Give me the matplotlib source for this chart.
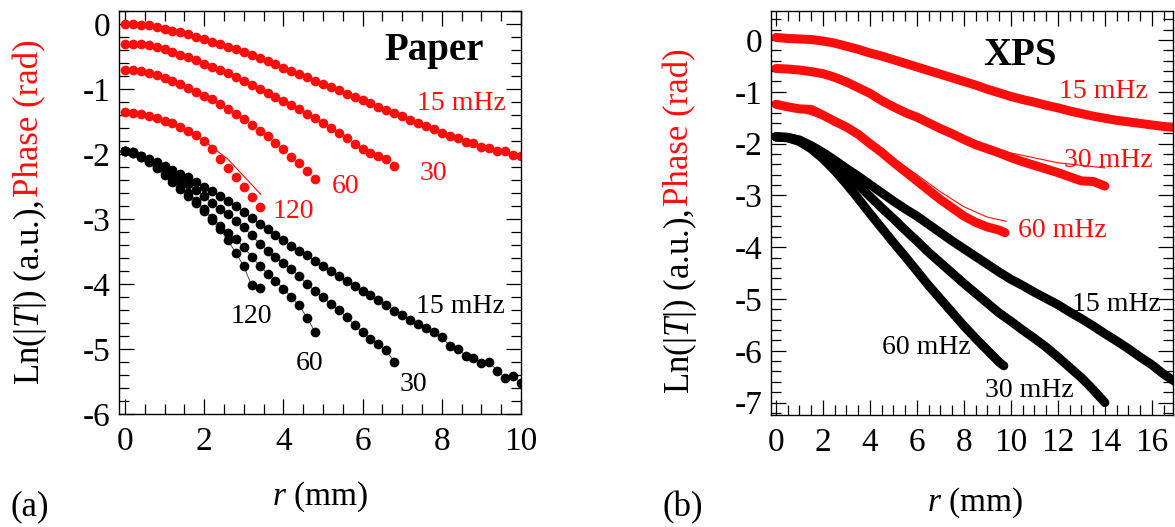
import matplotlib
matplotlib.use("Agg")
import matplotlib.pyplot as plt
from matplotlib.ticker import MultipleLocator

plt.rcParams.update({
    "font.family": "Liberation Serif",
    "mathtext.fontset": "custom",
    "mathtext.rm": "Liberation Serif",
    "mathtext.it": "Liberation Serif:italic",
    "axes.unicode_minus": False,
})

RED = "#ff0d0d"

# ---------------- panel (a): Paper, r grid in mm ----------------
r_a = [0.0, 0.2, 0.4, 0.6, 0.8, 1.0, 1.2, 1.4, 1.6, 1.8, 2.0, 2.2, 2.4, 2.6, 2.8,
       3.0, 3.2, 3.4, 3.6, 3.8, 4.0, 4.2, 4.4, 4.6, 4.8, 5.0, 5.2, 5.4, 5.6, 5.8,
       6.0, 6.2, 6.4, 6.6, 6.8, 7.0, 7.2, 7.4, 7.6, 7.8, 8.0, 8.2, 8.4, 8.6, 8.8,
       9.0, 9.2, 9.4, 9.6, 9.8, 10.0]

paper_phase_15 = [0.00, 0.00, -0.01, -0.02, -0.04, -0.07, -0.10, -0.13, -0.16, -0.20,
                  -0.23, -0.27, -0.31, -0.35, -0.39, -0.43, -0.48, -0.52, -0.57, -0.62,
                  -0.67, -0.72, -0.77, -0.82, -0.87, -0.92, -0.97, -1.02, -1.07, -1.12,
                  -1.17, -1.22, -1.27, -1.32, -1.37, -1.42, -1.47, -1.52, -1.57, -1.62,
                  -1.67, -1.72, -1.76, -1.82, -1.83, -1.89, -1.90, -1.96, -1.95, -2.01,
                  -2.03]
paper_phase_30 = [-0.30, -0.30, -0.31, -0.33, -0.36, -0.39, -0.43, -0.47, -0.51, -0.56,
                  -0.61, -0.66, -0.71, -0.76, -0.82, -0.88, -0.94, -1.00, -1.06, -1.12,
                  -1.18, -1.24, -1.31, -1.38, -1.45, -1.53, -1.60, -1.68, -1.76, -1.84,
                  -1.92, -1.98, -2.03, -2.08, -2.19]
paper_phase_60 = [-0.70, -0.70, -0.72, -0.75, -0.79, -0.83, -0.88, -0.93, -0.98, -1.04,
                  -1.10, -1.16, -1.23, -1.30, -1.38, -1.46, -1.55, -1.64, -1.73, -1.83,
                  -1.93, -2.04, -2.14, -2.26, -2.38]
paper_phase_120 = [-1.36, -1.37, -1.39, -1.42, -1.45, -1.49, -1.53, -1.58, -1.64, -1.71,
                   -1.80, -1.92, -2.07, -2.22, -2.36, -2.50, -2.66, -2.82]
fit_r_120 = [0.0, 1.0, 2.0, 2.6, 3.43]
fit_phase_120 = [-1.36, -1.49, -1.80, -2.08, -2.62]

paper_amp_15 = [-1.96, -1.97, -2.03, -2.08, -2.13, -2.18, -2.24, -2.30, -2.36, -2.43,
                -2.50, -2.57, -2.64, -2.72, -2.80, -2.89, -2.99, -3.08, -3.16, -3.24,
                -3.32, -3.41, -3.49, -3.56, -3.64, -3.72, -3.80, -3.87, -3.95, -4.03,
                -4.11, -4.17, -4.24, -4.32, -4.41, -4.48, -4.55, -4.62, -4.67, -4.74,
                -4.82, -4.95, -5.00, -5.10, -5.14, -5.21, -5.20, -5.34, -5.44, -5.41,
                -5.52]
paper_amp_30 = [-1.96, -1.97, -2.03, -2.09, -2.15, -2.22, -2.30, -2.38, -2.46, -2.55,
                -2.65, -2.75, -2.84, -2.93, -3.03, -3.13, -3.25, -3.38, -3.49, -3.59,
                -3.68, -3.77, -3.88, -4.00, -4.11, -4.20, -4.31, -4.40, -4.51, -4.63,
                -4.74, -4.84, -4.93, -5.02, -5.20]
paper_amp_60 = [-1.96, -1.98, -2.04, -2.11, -2.19, -2.28, -2.38, -2.49, -2.60, -2.72,
                -2.85, -2.98, -3.10, -3.21, -3.31, -3.43, -3.58, -3.72, -3.84, -3.95,
                -4.07, -4.20, -4.33, -4.52, -4.74]
paper_amp_120 = [-1.96, -1.98, -2.05, -2.13, -2.22, -2.32, -2.43, -2.54, -2.65, -2.76,
                 -2.88, -3.01, -3.16, -3.33, -3.52, -3.73, -4.02, -4.06]

# ---------------- panel (b): XPS ----------------
r_b = [0.0, 0.5, 1.0, 1.5, 2.0, 2.5, 3.0, 3.5, 4.0, 4.5, 5.0, 5.5, 6.0, 6.5, 7.0, 7.5,
       8.0, 8.5, 9.0, 9.5, 10.0, 10.5, 11.0, 11.5, 12.0, 12.5, 13.0, 13.5, 14.0, 14.5,
       15.0, 15.5, 16.0, 16.5, 17.0]

xps_phase_15 = [0.05, 0.03, 0.02, 0.01, -0.02, -0.06, -0.12, -0.18, -0.25, -0.31,
                -0.38, -0.45, -0.52, -0.59, -0.66, -0.73, -0.80, -0.87, -0.95, -1.02,
                -1.09, -1.15, -1.20, -1.26, -1.31, -1.37, -1.42, -1.47, -1.51, -1.55,
                -1.58, -1.61, -1.64, -1.67, -1.69]
xps_phase_30 = [-0.55, -0.56, -0.58, -0.61, -0.65, -0.72, -0.81, -0.92, -1.03, -1.17,
                -1.29, -1.40, -1.49, -1.60, -1.71, -1.81, -1.92, -2.02, -2.10, -2.18,
                -2.27, -2.35, -2.42, -2.49, -2.56, -2.64, -2.72, -2.73, -2.82]
xps_r_60_phase = r_b[:20] + [9.75]
xps_phase_60 = [-1.24, -1.29, -1.33, -1.34, -1.45, -1.57, -1.68, -1.82, -2.00, -2.17,
                -2.36, -2.54, -2.72, -2.90, -3.08, -3.24, -3.40, -3.52, -3.61, -3.67,
                -3.72]
fit_r_30 = [0, 2, 4, 6, 8, 10, 12, 14]
fit_phase_30 = [-0.55, -0.64, -1.03, -1.46, -1.88, -2.18, -2.37, -2.47]
fit_r_60 = [0, 1, 2, 3, 4, 5, 6, 7, 8, 9, 9.8]
fit_phase_60 = [-1.27, -1.37, -1.52, -1.73, -1.98, -2.28, -2.60, -2.93, -3.22, -3.42, -3.50]

xps_amp_15 = [-1.87, -1.88, -1.93, -2.04, -2.17, -2.32, -2.48, -2.63, -2.79, -2.95,
              -3.11, -3.26, -3.40, -3.56, -3.72, -3.88, -4.03, -4.18, -4.33, -4.48,
              -4.62, -4.74, -4.87, -4.99, -5.11, -5.25, -5.38, -5.52, -5.67, -5.81,
              -5.96, -6.12, -6.27, -6.45, -6.60]
xps_amp_30 = [-1.87, -1.88, -1.94, -2.06, -2.22, -2.40, -2.60, -2.80, -3.02, -3.24,
              -3.45, -3.67, -3.88, -4.10, -4.30, -4.50, -4.70, -4.89, -5.08, -5.27,
              -5.43, -5.60, -5.76, -5.93, -6.12, -6.32, -6.52, -6.75, -7.00]
xps_r_60_amp = r_b[:20] + [9.7]
xps_amp_60 = [-1.87, -1.89, -1.96, -2.10, -2.29, -2.52, -2.78, -3.06, -3.35, -3.63,
              -3.91, -4.18, -4.46, -4.74, -5.00, -5.26, -5.52, -5.76, -5.99, -6.22,
              -6.29]


def style_axes(ax, xmajor, ymajor):
    ax.xaxis.set_major_locator(MultipleLocator(xmajor))
    ax.xaxis.set_minor_locator(MultipleLocator(0.5))
    ax.yaxis.set_major_locator(MultipleLocator(ymajor))
    ax.yaxis.set_minor_locator(MultipleLocator(0.2))
    ax.tick_params(which="both", direction="in", top=True, right=True,
                   width=0.9, labelsize=24)
    ax.tick_params(which="major", length=11)
    ax.tick_params(which="minor", length=7)
    ax.tick_params(axis="x", pad=9)
    ax.tick_params(axis="y", pad=6)
    for sp in ax.spines.values():
        sp.set_linewidth(1.0)


def two_colour_ylabel(fig, x, y0, size):
    t1 = fig.text(x, y0, r"Ln(|$T$|) (a.u.), ", rotation=90, rotation_mode="anchor",
                  ha="left", va="center", fontsize=size)
    fig.canvas.draw()
    bb = t1.get_window_extent()
    fig.text(x, bb.y1 / fig.bbox.height, "Phase (rad)", color=RED, rotation=90,
             rotation_mode="anchor", ha="left", va="center", fontsize=size)


fig = plt.figure(figsize=(11.75, 5.27), dpi=100)
W, H = 1175, 527
ax_a = fig.add_axes([119 / W, 1 - 414 / H, (521 - 119) / W, (414 - 11) / H])
ax_b = fig.add_axes([771 / W, 1 - 415 / H, (1173 - 771) / W, (415 - 11) / H])

# panel (a)
ax = ax_a
ms = 7.0
for y in (paper_phase_15, paper_phase_30, paper_phase_60, paper_phase_120):
    ax.plot(r_a[:len(y)], y, "o", ms=ms, color=RED, mew=0)
ax.plot(fit_r_120, fit_phase_120, "-", lw=0.8, color=RED)
for y in (paper_amp_15, paper_amp_30, paper_amp_60, paper_amp_120):
    ax.plot(r_a[:len(y)], y, "-", lw=0.7, color="0.3")
    ax.plot(r_a[:len(y)], y, "o", ms=ms, color="black", mew=0)
ax.set_xlim(-0.15, 10.0)
ax.set_ylim(-6.0, 0.2)
style_axes(ax, 2, 1)
ax.text(7.8, -0.55, "Paper", fontsize=28, fontweight="bold", ha="center", va="baseline")
lab = dict(fontsize=20, ha="center", va="center")
ax.text(8.5, -1.22, "15 mHz", color=RED, **lab)
ax.text(7.78, -2.30, "30", color=RED, **lab)
ax.text(5.56, -2.50, "60", color=RED, **lab)
ax.text(4.25, -2.89, "120", color=RED, **lab)
ax.text(8.46, -4.35, "15 mHz", **lab)
ax.text(3.2, -4.50, "120", **lab)
ax.text(4.65, -5.22, "60", **lab)
ax.text(7.28, -5.55, "30", **lab)

# panel (b)
ax = ax_b
thick = dict(lw=6.5, solid_capstyle="round", solid_joinstyle="round")
ax.plot(r_b[:len(xps_phase_15)], xps_phase_15, "-", color=RED, **thick)
ax.plot(r_b[:len(xps_phase_30)], xps_phase_30, "-", color=RED, **thick)
ax.plot(xps_r_60_phase, xps_phase_60, "-", color=RED, **thick)
ax.plot(fit_r_30, fit_phase_30, "-", lw=0.8, color=RED)
ax.plot(fit_r_60, fit_phase_60, "-", lw=0.8, color=RED)
ax.plot(r_b[:len(xps_amp_15)], xps_amp_15, "-", color="black", **thick)
ax.plot(r_b[:len(xps_amp_30)], xps_amp_30, "-", color="black", **thick)
ax.plot(xps_r_60_amp, xps_amp_60, "-", color="black", **thick)
ax.set_xlim(-0.21, 16.9)
ax.set_ylim(-7.24, 0.56)
style_axes(ax, 2, 1)
ax.text(10.38, -0.48, "XPS", fontsize=28, fontweight="bold", ha="center", va="baseline")
ax.text(13.93, -1.0, "15 mHz", color=RED, **lab)
ax.text(14.15, -2.32, "30 mHz", color=RED, **lab)
ax.text(12.21, -3.67, "60 mHz", color=RED, **lab)
ax.text(14.5, -5.1, "15 mHz", **lab)
ax.text(6.4, -5.93, "60 mHz", **lab)
ax.text(10.78, -6.77, "30 mHz", **lab)

# axis labels and panel letters
two_colour_ylabel(fig, 30 / W, 1 - 385 / H, 25)
two_colour_ylabel(fig, 680 / W, 1 - 394 / H, 25)
fig.text(320 / W, 1 - 497 / H, r"$r$ (mm)", fontsize=24, ha="center", va="center")
fig.text(975 / W, 1 - 503 / H, r"$r$ (mm)", fontsize=24, ha="center", va="center")
fig.text(30 / W, 1 - 507 / H, "(a)", fontsize=25, ha="center", va="center")
fig.text(683 / W, 1 - 508 / H, "(b)", fontsize=25, ha="center", va="center")

fig.savefig("out.png", dpi=100)
